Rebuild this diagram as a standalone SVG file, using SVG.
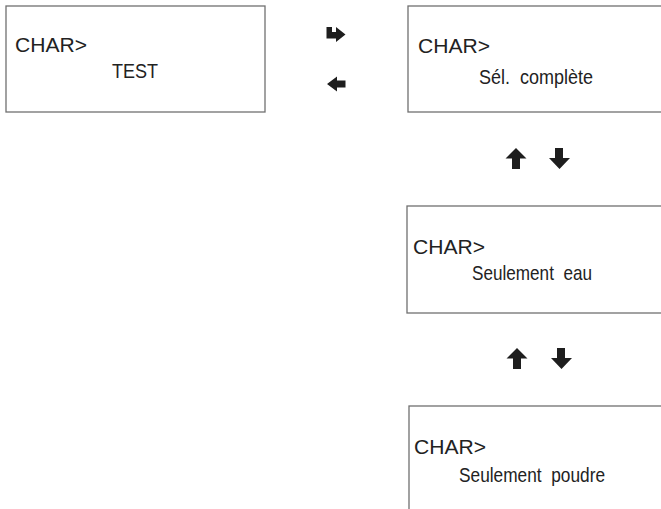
<svg xmlns="http://www.w3.org/2000/svg" width="661" height="509" viewBox="0 0 661 509">
<style>
.box{fill:#fff;stroke:#707070;stroke-width:1.3}
.t1{font-family:"Liberation Sans",Arial,sans-serif;font-size:20.5px;fill:#222}
.t2{font-family:"Liberation Sans",Arial,sans-serif;font-size:21px;fill:#222}
.arr{fill:#1e1e1e}
</style>
<rect width="661" height="509" fill="#fff"/>
<g id="node-test">
<rect class="box" x="6" y="6" width="259" height="106"/>
<text class="t1" x="15" y="52" textLength="72" lengthAdjust="spacingAndGlyphs">CHAR&gt;</text>
<text class="t2" x="112" y="78" textLength="46" lengthAdjust="spacingAndGlyphs">TEST</text>
</g>
<g id="node-sel">
<rect class="box" x="408" y="6" width="262" height="106"/>
<text class="t1" x="418" y="53" textLength="72" lengthAdjust="spacingAndGlyphs">CHAR&gt;</text>
<text class="t2" x="479" y="84" textLength="114" lengthAdjust="spacingAndGlyphs" xml:space="preserve">Sél.  complète</text>
</g>
<g id="node-eau">
<rect class="box" x="407" y="206" width="262" height="107"/>
<text class="t1" x="413" y="254" textLength="72" lengthAdjust="spacingAndGlyphs">CHAR&gt;</text>
<text class="t2" x="472" y="280" textLength="120" lengthAdjust="spacingAndGlyphs" xml:space="preserve">Seulement  eau</text>
</g>
<g id="node-poudre">
<rect class="box" x="409" y="406" width="262" height="120"/>
<text class="t1" x="414" y="454" textLength="72" lengthAdjust="spacingAndGlyphs">CHAR&gt;</text>
<text class="t2" x="459" y="482" textLength="146" lengthAdjust="spacingAndGlyphs" xml:space="preserve">Seulement  poudre</text>
</g>
<g id="connectors">
<path class="arr" d="M326.5,27 H332 V32 H336 V27 L345.5,34.5 L336,42 V38.5 H326.5 Z"/>
<path class="arr" d="M327,84 L337,76.5 V80.5 H345.5 V87.5 H337 V91.5 Z"/>
<path class="arr" d="M516,148 L526.5,158.5 H520 V169 H512 V158.5 H505.5 Z"/>
<path class="arr" d="M555,148 H563 V158 H570 L559.5,169 L549,158 H555 Z"/>
<path class="arr" d="M517,348 L527.5,358.5 H521 V369 H513 V358.5 H506.5 Z"/>
<path class="arr" d="M557,348 H565 V358 H572 L561.5,369 L551,358 H557 Z"/>
</g>
</svg>
